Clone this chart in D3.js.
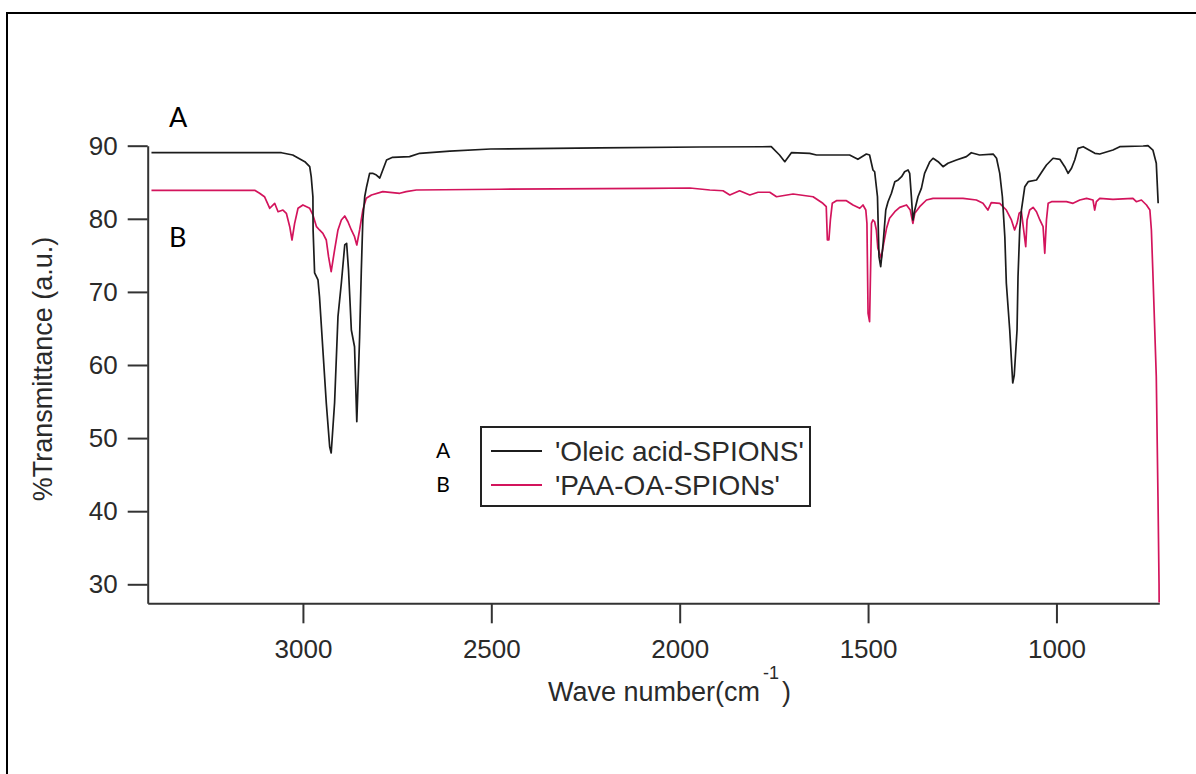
<!DOCTYPE html>
<html>
<head>
<meta charset="utf-8">
<script src="https://cdn.jsdelivr.net/npm/d3@7/dist/d3.min.js"></script>
<style>
  html, body { margin: 0; padding: 0; background: #fff; }
  svg { display: block; }
</style>
</head>
<body>
<svg id="chart" width="1196" height="774"></svg>
<script>
// FTIR spectra: wavenumber (cm^-1) and % transmittance

// Series A: 'Oleic acid-SPIONS'
const wnA = [3402, 3057, 3027, 2995, 2982, 2978, 2973.5, 2973, 2969, 2960, 2956, 2947, 2938, 2929, 2925,
  2916, 2907, 2898, 2889, 2884, 2879, 2871.5, 2863, 2857, 2849.5, 2845, 2841, 2836, 2831, 2823, 2815,
  2805, 2796, 2788, 2778, 2762, 2717, 2690, 2610, 2502, 2212, 1947, 1757, 1735, 1721, 1703.5, 1655,
  1637, 1549, 1527, 1504.5, 1496, 1487, 1482.5, 1475, 1471, 1466.5, 1460, 1453, 1447, 1438, 1429,
  1420, 1411, 1403, 1394, 1389.5, 1385, 1381, 1376, 1367.5, 1358.5, 1350, 1336, 1327.5, 1314, 1301,
  1288, 1265.5, 1239, 1226, 1204, 1168, 1159, 1150.5, 1143.5, 1137, 1133, 1124, 1119.5, 1116, 1112,
  1104.6, 1102, 1097.5, 1093, 1084, 1075, 1053, 1035.5, 1026.5, 1009, 991, 978, 969, 960, 951.5,
  942.6, 929, 898, 885, 850, 832, 770, 757, 744, 735, 730];
const tA = [89.04, 89.04, 88.73, 87.81, 87.13, 85.76, 83.02, 78.47, 72.59, 71.63, 69.34, 62.05, 54.80, 48.82, 47.96,
  54.80, 66.61, 71.22, 76.42, 76.65, 73.00, 64.79, 62.50, 52.24, 63.87, 73.00, 79.84, 83.02, 84.39, 86.22, 86.22,
  85.99, 85.58, 86.68, 88.04, 88.41, 88.50, 88.96, 89.27, 89.55, 89.69, 89.82, 89.86, 88.73, 87.81, 89.04, 88.96,
  88.73, 88.73, 88.14, 88.86, 88.73, 86.68, 86.44, 83.02, 74.82, 73.45, 76.65, 81.20, 82.34, 83.49, 85.08,
  85.31, 85.76, 86.44, 86.68, 86.22, 83.02, 79.84, 81.20, 83.02, 84.17, 86.22, 87.81, 88.28, 87.81, 87.13,
  87.59, 88.04, 88.50, 89.04, 88.73, 88.86, 88.28, 86.22, 83.02, 77.55, 71.18, 64.79, 60.69, 57.54, 58.6,
  64.79, 72.08, 78.47, 81.20, 84.39, 85.08, 85.31, 86.68, 87.36, 88.28, 88.14, 87.13, 86.22, 86.91, 88.04,
  89.64, 89.86, 88.96, 88.86, 89.41, 89.86, 89.96, 90.0, 89.41, 87.59, 82.12];

// Series B: 'PAA-OA-SPIONs'
const wnB = [3402, 3128, 3115, 3102, 3088, 3075, 3066, 3053, 3044, 3035, 3029, 3022, 3013, 3000, 2982,
  2973.5, 2964, 2956, 2947, 2938, 2932, 2925, 2916, 2907, 2898, 2889, 2880.5, 2871.5, 2863, 2857,
  2849.5, 2841, 2832, 2818, 2788, 2743, 2726, 2699, 2478, 2079, 1973, 1920, 1885, 1867, 1841, 1814,
  1792, 1761, 1743, 1699, 1646, 1620, 1611, 1608, 1604, 1600, 1595, 1584, 1557.5, 1540, 1522, 1513.5,
  1506, 1503, 1500, 1496, 1493, 1491, 1487, 1482.5, 1478, 1474, 1465, 1458.5, 1451, 1443, 1429, 1416,
  1398, 1388, 1381, 1376, 1363, 1345, 1327.5, 1248, 1212.5, 1195, 1182, 1173, 1150.5, 1133, 1119.5,
  1111, 1104.6, 1099, 1093, 1087, 1081.5, 1078, 1071, 1062, 1053, 1044, 1035.5, 1031, 1026.5, 1022,
  1013, 973.5, 956, 938, 920, 903, 898.5, 894, 885, 850, 797, 788, 774.5, 761, 752, 748, 744, 735,
  730.5, 727.7, 727.4];
const tB = [83.90, 83.90, 83.49, 83.02, 81.44, 82.12, 80.97, 81.20, 80.75, 78.92, 77.10, 79.38, 81.44, 81.89, 81.44,
  80.52, 78.92, 78.47, 78.02, 77.10, 74.82, 72.76, 75.73, 78.47, 79.84, 80.38, 79.60, 78.47, 77.55, 76.42,
  78.47, 81.20, 82.80, 83.26, 83.71, 83.49, 83.71, 83.94, 84.04, 84.15, 84.21, 83.94, 83.84, 83.26, 83.84, 83.26,
  83.63, 83.63, 83.02, 83.39, 83.02, 82.12, 81.66, 77.10, 77.10, 79.84, 82.12, 82.48, 82.48, 81.89, 81.44, 81.89,
  81.20, 79.38, 67.07, 65.92, 73.91, 79.38, 79.84, 79.60, 78.47, 75.96, 74.60, 76.65, 78.70, 80.07, 80.97, 81.57,
  81.89, 81.20, 79.38, 80.75, 81.66, 82.57, 82.80, 82.80, 82.57, 82.12, 81.20, 82.20, 82.12, 81.20, 79.84,
  78.47, 79.38, 80.75, 80.97, 78.47, 76.18, 79.84, 81.20, 81.57, 80.97, 79.84, 78.92, 75.28, 79.84, 82.12,
  82.34, 82.34, 82.12, 82.57, 82.80, 82.57, 81.20, 82.34, 82.80, 82.67, 82.80, 82.34, 82.57, 81.89, 81.20, 78.47, 72.54, 58.40,
  41.98, 30.13, 27.5];

const seriesNames = ["'Oleic acid-SPIONS'", "'PAA-OA-SPIONs'"];
const seriesTags = ["A", "B"];
const seriesColors = ["#1c1c1c", "#d3145c"];

const xTicks = [3000, 2500, 2000, 1500, 1000];
const yTicks = [30, 40, 50, 60, 70, 80, 90];

const svg = d3.select("#chart");

// outer frame
svg.append("rect")
  .attr("x", 7).attr("y", 13)
  .attr("width", 1220).attr("height", 800)
  .attr("fill", "none").attr("stroke", "#000").attr("stroke-width", 2);

const x = d3.scaleLinear().domain([3412, 727]).range([147.7, 1159.3]);
const y = d3.scaleLinear().domain([27.4, 90]).range([603.3, 145.7]);

const font = "'Liberation Sans', Arial, sans-serif";

// axes
const gx = svg.append("g").attr("transform", `translate(0,${y.range()[0]})`)
  .call(d3.axisBottom(x).tickValues(xTicks).tickSize(20).tickSizeOuter(0).tickPadding(16)
    .tickFormat(d3.format("d")));
const gy = svg.append("g").attr("transform", `translate(${x.range()[0]},0)`)
  .call(d3.axisLeft(y).tickValues(yTicks).tickSize(20).tickSizeOuter(0).tickPadding(10));

[gx, gy].forEach(g => {
  g.select(".domain").attr("stroke", "#333").attr("stroke-width", 2);
  g.selectAll(".tick line").attr("stroke", "#333").attr("stroke-width", 2);
  g.selectAll(".tick text").attr("fill", "#2a2a2a")
    .style("font-family", font).style("font-size", "26px");
});

// spectra
const line = d3.line().x(d => x(d[0])).y(d => y(d[1]));
const dataA = wnA.map((w, i) => [w, tA[i]]);
const dataB = wnB.map((w, i) => [w, tB[i]]);

svg.append("path").datum(dataB)
  .attr("d", line).attr("fill", "none")
  .attr("stroke", seriesColors[1]).attr("stroke-width", 1.7).attr("stroke-linejoin", "round");
svg.append("path").datum(dataA)
  .attr("d", line).attr("fill", "none")
  .attr("stroke", seriesColors[0]).attr("stroke-width", 1.7).attr("stroke-linejoin", "round");

// axis titles
svg.append("text")
  .attr("transform", `translate(52,369) rotate(-90)`)
  .attr("text-anchor", "middle")
  .style("font-family", font).style("font-size", "27px").attr("fill", "#2a2a2a")
  .text("%Transmittance (a.u.)");

const xt = svg.append("text")
  .attr("x", 548).attr("y", 701)
  .style("font-family", font).style("font-size", "27px").attr("fill", "#2a2a2a");
xt.append("tspan").text("Wave number(cm");
xt.append("tspan").attr("dx", 3).attr("dy", -22).style("font-size", "18px").text("-1");
xt.append("tspan").attr("dx", 3).attr("dy", 22).text(")");

// series tags near the curves
svg.append("text").attr("x", 169).attr("y", 127)
  .style("font-family", "Lato, 'Open Sans', sans-serif").style("font-size", "27px").attr("fill", "#000")
  .text(seriesTags[0]);
svg.append("text").attr("x", 169).attr("y", 247)
  .style("font-family", "Lato, 'Open Sans', sans-serif").style("font-size", "27px").attr("fill", "#000")
  .text(seriesTags[1]);

// legend
const leg = svg.append("g");
leg.append("rect").attr("x", 481).attr("y", 427).attr("width", 329).attr("height", 79)
  .attr("fill", "#fff").attr("stroke", "#222").attr("stroke-width", 2);
seriesNames.forEach((name, i) => {
  const cy = 451 + i * 34;
  leg.append("line").attr("x1", 491).attr("x2", 542).attr("y1", cy).attr("y2", cy)
    .attr("stroke", seriesColors[i]).attr("stroke-width", 2);
  leg.append("text").attr("x", 555).attr("y", cy + 10)
    .style("font-family", font).style("font-size", "28px").attr("fill", "#2a2a2a")
    .text(name);
  leg.append("text").attr("x", 443).attr("y", cy + 7).attr("text-anchor", "middle")
    .style("font-family", "Lato, 'Open Sans', sans-serif").style("font-size", "21px").attr("fill", "#000")
    .text(seriesTags[i]);
});
</script>
</body>
</html>
